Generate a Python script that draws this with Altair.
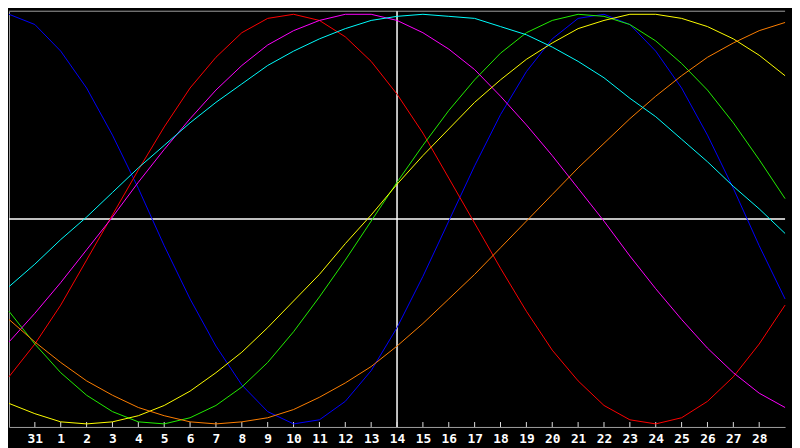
import json

import altair as alt
import pandas as pd

# day index 0..30 along the bottom, labels as printed on the chart
day_labels = ["30", "31"] + [str(d) for d in range(1, 30)]
shown_ticks = list(range(1, 30))
today = 15

# cycle values (-100..100), one per day index 0..30
physical = [100, 95, 82, 64, 41, 15, -13, -39, -62, -81, -94, -100, -98, -89, -74, -53,
            -28, -1, 26, 51, 72, 88, 98, 100, 95, 82, 64, 41, 15, -13, -39]
emotional = [-77, -61, -42, -20, 2, 24, 45, 64, 79, 91, 98, 100, 97, 89, 77, 61,
             42, 20, -2, -24, -45, -64, -79, -91, -98, -100, -97, -89, -77, -61, -42]
intellectual = [-45, -61, -75, -86, -94, -99, -100, -97, -91, -82, -70, -55, -38, -20, -1, 18,
                36, 53, 68, 81, 91, 97, 100, 99, 95, 87, 76, 63, 47, 29, 10]
intuitive = [-60, -46, -31, -15, 1, 18, 34, 49, 63, 75, 85, 92, 97, 100, 100, 97,
             91, 83, 73, 60, 46, 31, 15, -1, -18, -34, -49, -63, -75, -85, -92]
aesthetic = [-90, -95, -99, -100, -99, -96, -91, -84, -75, -65, -53, -40, -27, -12, 2, 17,
             31, 44, 57, 68, 78, 86, 93, 97, 100, 100, 98, 94, 88, 80, 70]
awareness = [-49, -60, -70, -79, -86, -92, -96, -99, -100, -99, -97, -93, -87, -80, -72, -62,
             -51, -39, -27, -14, -1, 12, 25, 37, 49, 60, 70, 79, 86, 92, 96]
spiritual = [-33, -22, -10, 1, 13, 25, 36, 47, 57, 66, 75, 82, 88, 93, 97, 99,
             100, 99, 98, 94, 90, 84, 77, 69, 59, 50, 39, 28, 16, 5, -7]

cycles = ["physical", "emotional", "intellectual", "intuitive",
          "aesthetic", "awareness", "spiritual"]
cycle_colors = ["#0000ff", "#ff0000", "#22ee00", "#ff00ff",
                "#ffff00", "#ff8000", "#00ffff"]
series = [physical, emotional, intellectual, intuitive, aesthetic, awareness, spiritual]

rows = []
for name, values in zip(cycles, series):
    for day, v in enumerate(values):
        rows.append({"day": day, "value": v, "cycle": name})
df = pd.DataFrame(rows)

W, H = 784, 420
gray = "#a0a0a0"

x_scale = alt.Scale(domain=[0, 30], nice=False, zero=False)
y_scale = alt.Scale(domain=[-101.5, 101.5], nice=False, zero=False)

x_axis = alt.Axis(
    values=shown_ticks,
    labelExpr=json.dumps(day_labels) + "[datum.value]",
    ticks=False, grid=False, title=None,
    domainColor=gray, labelColor="white",
    labelFont="DejaVu Sans Mono", labelFontWeight="bold", labelFontSize=13,
    labelPadding=6, labelFlush=False, labelOverlap=False,
)
y_axis = alt.Axis(ticks=False, labels=False, grid=False, title=None, domainColor=gray)

top_border = alt.Chart(pd.DataFrame({"value": [101.5]})).mark_rule(color=gray).encode(
    y=alt.Y("value:Q", scale=y_scale, axis=y_axis)
)

zero_line = alt.Chart(pd.DataFrame({"value": [0]})).mark_rule(color="white", strokeWidth=1.5).encode(
    y=alt.Y("value:Q", scale=y_scale, axis=y_axis)
)
today_line = alt.Chart(pd.DataFrame({"day": [today]})).mark_rule(color="white", strokeWidth=1.5).encode(
    x=alt.X("day:Q", scale=x_scale, axis=x_axis)
)

day_ticks = alt.Chart(pd.DataFrame({"day": shown_ticks})).mark_rule(color="#e0e0e0").encode(
    x=alt.X("day:Q", scale=x_scale, axis=x_axis),
    y=alt.value(H - 5),
    y2=alt.value(H),
)

lines = alt.Chart(df).mark_line(strokeWidth=1).encode(
    x=alt.X("day:Q", scale=x_scale, axis=x_axis),
    y=alt.Y("value:Q", scale=y_scale, axis=y_axis),
    color=alt.Color("cycle:N", scale=alt.Scale(domain=cycles, range=cycle_colors), legend=None),
    order="day:Q",
)

chart = alt.layer(top_border, zero_line, today_line, day_ticks, lines).properties(
    width=W,
    height=H,
    autosize=alt.AutoSizeParams(type="none"),
    padding={"left": 1, "top": 1, "right": 7, "bottom": 19},
    background="black",
).configure_view(
    stroke=None
).configure_axisX(
    labelFont="DejaVu Sans Mono", labelFontWeight="bold", labelFontSize=13,
    labelOverlap=False, labelColor="white"
)

chart.save("out.html", embed_options={"renderer": "svg", "actions": False})
